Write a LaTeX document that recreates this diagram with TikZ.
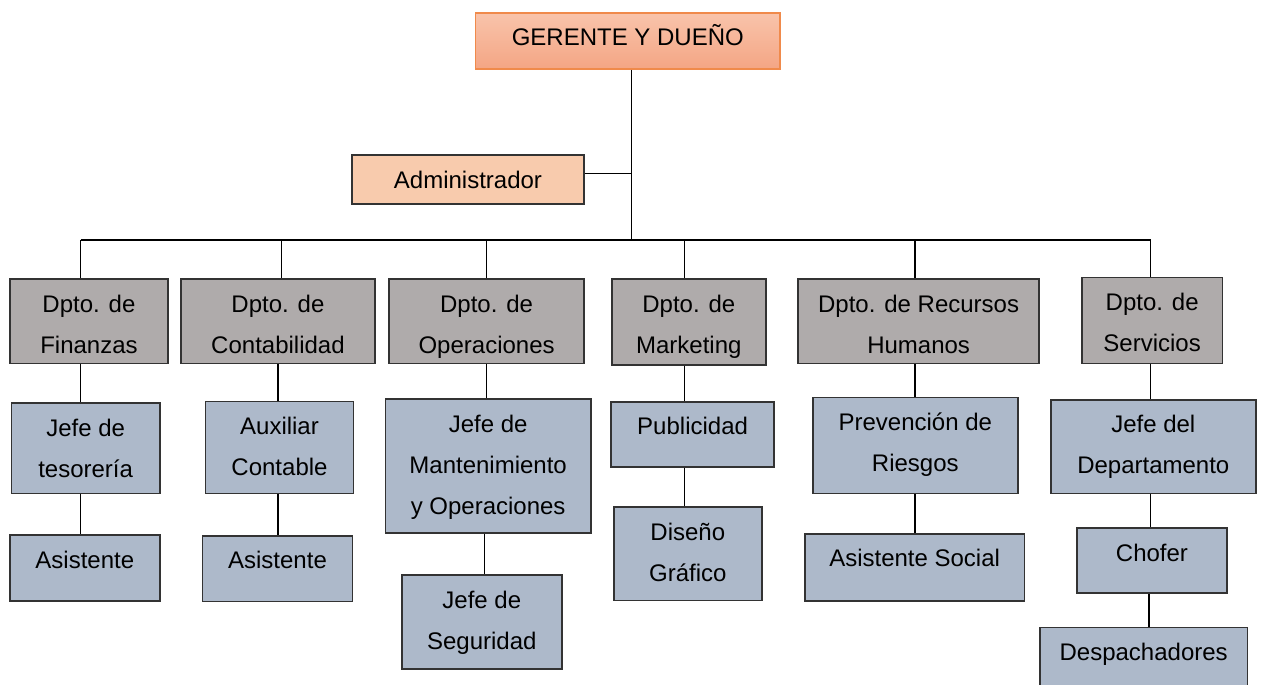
\documentclass[tikz,border=0pt]{standalone}
\usepackage{fontspec}
\setmainfont{Liberation Sans}
\definecolor{bossline}{HTML}{F08A4B}
\definecolor{bosstop}{HTML}{F9C4AB}
\definecolor{bossbot}{HTML}{F4A584}
\definecolor{adminfill}{HTML}{F8CBAD}
\definecolor{deptfill}{HTML}{AFABAB}
\definecolor{unitfill}{HTML}{ADB9CA}
\definecolor{boxline}{HTML}{333333}
\tikzset{
  box/.style={draw=boxline, line width=1.6pt, anchor=north west, inner xsep=2pt,
    inner ysep=0pt, align=center, text height=33pt,
    font=\fontsize{24}{41}\selectfont},
  twoline/.style={text height=74pt},
  threeline/.style={text height=115pt},
  boss/.style={box, draw=bossline, top color=bosstop, bottom color=bossbot},
  admin/.style={box, fill=adminfill},
  dept/.style={box, twoline, fill=deptfill},
  unit/.style={box, fill=unitfill},
  link/.style={line width=1.2pt, black}
}
\begin{document}
\begin{tikzpicture}[x=1pt,y=-1pt]
    \useasboundingbox (0,0) rectangle (1263,685);
    % top
    \node[boss, minimum width=304.6pt, minimum height=56.3pt, text depth=23.3pt] (gerente) at (474.7,12) {GERENTE Y DUEÑO};
    \node[admin, minimum width=232.3pt, minimum height=49pt, text depth=16pt] (admin) at (351,154.3) {Administrador};
    % departments
    \node[dept, minimum width=158.3pt, minimum height=84.4pt, text depth=10.4pt] (finanzas) at (9,278.3) {Dpto. de\\Finanzas};
    \node[dept, minimum width=194.3pt, minimum height=84.4pt, text depth=10.4pt] (contab) at (180,278.3) {Dpto. de\\Contabilidad};
    \node[dept, minimum width=195pt, minimum height=84.4pt, text depth=10.4pt] (operac) at (388.3,278.3) {Dpto. de\\Operaciones};
    \node[dept, minimum width=154pt, minimum height=85.7pt, text depth=11.7pt] (market) at (611,278.3) {Dpto. de\\Marketing};
    \node[dept, minimum width=241pt, minimum height=84.4pt, text depth=10.4pt] (rrhh) at (797.3,278.3) {Dpto. de Recursos\\Humanos};
    \node[dept, minimum width=140.7pt, minimum height=86pt, text depth=12pt] (servic) at (1081,276.7) {Dpto. de\\Servicios};
    % units
    \node[unit, twoline, minimum width=148.3pt, minimum height=90.4pt, text depth=16.4pt] (tesoreria) at (10.7,402.3) {Jefe de\\tesorería};
    \node[unit, minimum width=150pt, minimum height=65.7pt, text depth=32.7pt] (asisfin) at (9,534.3) {Asistente};
    \node[unit, twoline, minimum width=148pt, minimum height=92pt, text depth=18pt] (auxiliar) at (204.7,400.7) {Auxiliar\\Contable};
    \node[unit, minimum width=150pt, minimum height=65.7pt, text depth=32.7pt] (asiscont) at (201.7,535) {Asistente};
    \node[unit, threeline, minimum width=205.3pt, minimum height=134pt, text depth=19pt] (manten) at (384.7,398.3) {Jefe de\\Mantenimiento\\y Operaciones};
    \node[unit, twoline, minimum width=160pt, minimum height=94pt, text depth=20pt] (segur) at (401,574.3) {Jefe de\\Seguridad};
    \node[unit, minimum width=163pt, minimum height=65pt, text depth=32pt] (public) at (610.3,401) {Publicidad};
    \node[unit, twoline, minimum width=148pt, minimum height=93.4pt, text depth=19.4pt] (diseno) at (613,506.3) {Diseño\\Gráfico};
    \node[unit, twoline, minimum width=205pt, minimum height=96pt, text depth=22pt] (prevenc) at (812,396.7) {Prevención de\\Riesgos};
    \node[unit, minimum width=219.7pt, minimum height=67.3pt, text depth=34.3pt] (asissoc) at (804,533) {Asistente Social};
    \node[unit, twoline, minimum width=205pt, minimum height=93.7pt, text depth=19.7pt] (jefedep) at (1050,399) {Jefe del\\Departamento};
    \node[unit, minimum width=149.7pt, minimum height=65pt, text depth=32pt] (chofer) at (1076.3,527.3) {Chofer};
    \node[unit, minimum width=207.7pt, minimum height=65pt, text depth=32pt] (despach) at (1039,626.7) {Despachadores};
    % bus and columns
    \coordinate (bus) at (631.7,240);
    \coordinate (colA) at (80.7,240);
    \coordinate (colB) at (281.7,240);
    \coordinate (colC) at (486.7,240);
    \coordinate (colD) at (684.8,240);
    \coordinate (colE) at (915,240);
    \coordinate (colF) at (1150.8,240);
    \draw[link] (gerente.south -| bus) -- (bus);
    \draw[link] ([yshift=6pt]admin.east) -- ([yshift=6pt]admin.east -| bus);
    \draw[link] (colA) -- (colF);
    \foreach \col/\dep in {colA/finanzas, colB/contab, colC/operac, colD/market, colE/rrhh, colF/servic}
        \draw[link] (\col) -- (\col |- \dep.north);
    % lower links
    \draw[link] (finanzas.south -| colA) -- (tesoreria.north -| colA);
    \draw[link] (tesoreria.south -| colA) -- (asisfin.north -| colA);
    \draw[link] (contab.south) -- (contab.south |- auxiliar.north);
    \draw[link] (contab.south |- auxiliar.south) -- (contab.south |- asiscont.north);
    \draw[link] (operac.south) -- (operac.south |- manten.north);
    \draw[link] ([xshift=2.7pt]segur.north |- manten.south) -- ([xshift=2.7pt]segur.north);
    \draw[link] (market.south -| colD) -- (public.north -| colD);
    \draw[link] (public.south -| colD) -- (diseno.north -| colD);
    \draw[link] (rrhh.south -| colE) -- (prevenc.north -| colE);
    \draw[link] (prevenc.south -| colE) -- (asissoc.north -| colE);
    \draw[link] (servic.south -| colF) -- (jefedep.north -| colF);
    \draw[link] (jefedep.south -| colF) -- (chofer.north -| colF);
    \draw[link] ([xshift=-1.8pt]chofer.south -| colF) -- ([xshift=-1.8pt]despach.north -| colF);
\end{tikzpicture}
\end{document}
